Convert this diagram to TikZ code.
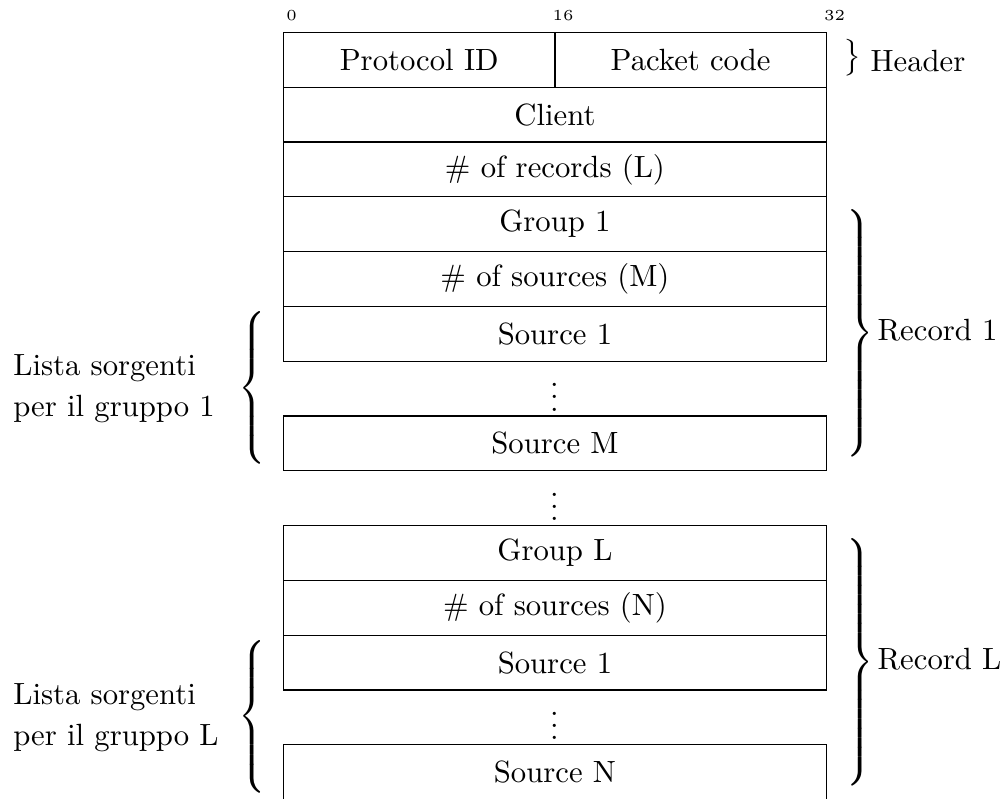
\documentclass[tikz,border=0pt]{standalone}
\usepackage{graphicx}
\usetikzlibrary{positioning}

% one unit of the picture = 0.3257pt, y grows downwards
\tikzset{
  field/.style={draw, line width=0.4pt, minimum width=176.86pt,
    minimum height=17.848pt, inner sep=0pt, anchor=north west},
  halffield/.style={field, minimum width=88.43pt},
  bitnum/.style={font=\tiny, inner sep=0pt},
  dotsrow/.style={inner sep=0pt},
  bracenode/.style={inner sep=0pt},
  sidelabel/.style={inner sep=0pt, anchor=west},
  grouplabel/.style={inner sep=0pt, anchor=west, align=left},
}

% extensible braces of at least the given total height
\newcommand\grpbraceR[1]{$\delimiterfactor=1000 \delimitershortfall=0pt
  \left.\vcenter{\hbox{\rule{0pt}{#1}}}\right\}$}
\newcommand\grpbraceL[1]{$\delimiterfactor=1000 \delimitershortfall=0pt
  \left\{\vcenter{\hbox{\rule{0pt}{#1}}}\right.$}

\begin{document}
\begin{tikzpicture}[x=0.3257pt, y=-0.3257pt]
  \useasboundingbox (0,0) rectangle (1005,798);

  % bit positions
  \node[bitnum] (b0)  at (291.5,16) {0};
  \node[bitnum] (b16) at (563,16)   {16};
  \node[bitnum] (b32) at (834.5,16) {32};

  % header
  \node[halffield] (pid)   at (282.8,31.7) {Protocol ID};
  \node[halffield] (pcode) at (554.3,31.7) {Packet code};
  \node[field] (client)  at (282.8,86.5)  {Client};
  \node[field] (nrec)    at (282.8,141.3) {\# of records (L)};

  % first record
  \node[field] (grp1)    at (282.8,196.1) {Group 1};
  \node[field] (nsrcM)   at (282.8,250.9) {\# of sources (M)};
  \node[field] (src1a)   at (282.8,305.7) {Source 1};
  \node[dotsrow] (dotsA) at (554.3,387.9) {$\vdots$};
  \node[field] (srcM)    at (282.8,415.3) {Source M};

  \node[dotsrow] (dotsB) at (554.3,497.5) {$\vdots$};

  % last record
  \node[field] (grpL)    at (282.8,524.9) {Group L};
  \node[field] (nsrcN)   at (282.8,579.7) {\# of sources (N)};
  \node[field] (src1b)   at (282.8,634.5) {Source 1};
  \node[dotsrow] (dotsC) at (554.3,716.7) {$\vdots$};
  \node[field] (srcN)    at (282.8,744.1) {Source N};

  % right-hand groups
  \node[bracenode, anchor=west] (hbr) at (843,57.5) {$\big\}$};
  \node[sidelabel] (hlab) at (870,61) {Header};

  \node[bracenode, anchor=west] (r1br) at (842,333.1)
    {\scalebox{1}[1.033]{\grpbraceR{77pt}}};
  \node[sidelabel] (r1lab) at (877,330.5) {Record 1};

  \node[bracenode, anchor=west] (rLbr) at (842,661.9)
    {\scalebox{1}[1.033]{\grpbraceR{77pt}}};
  \node[sidelabel] (rLlab) at (877,659) {Record L};

  % left-hand groups
  \node[bracenode, anchor=east] (l1br) at (270,387.9)
    {\scalebox{1}[1.04]{\grpbraceL{47pt}}};
  \node[grouplabel] (l1lab) at (12.7,389) {Lista sorgenti\\[1.35pt]per il gruppo 1};

  \node[bracenode, anchor=east] (lLbr) at (270,716.7)
    {\scalebox{1}[1.04]{\grpbraceL{47pt}}};
  \node[grouplabel] (lLlab) at (12.7,718) {Lista sorgenti\\[1.35pt]per il gruppo L};
\end{tikzpicture}
\end{document}
